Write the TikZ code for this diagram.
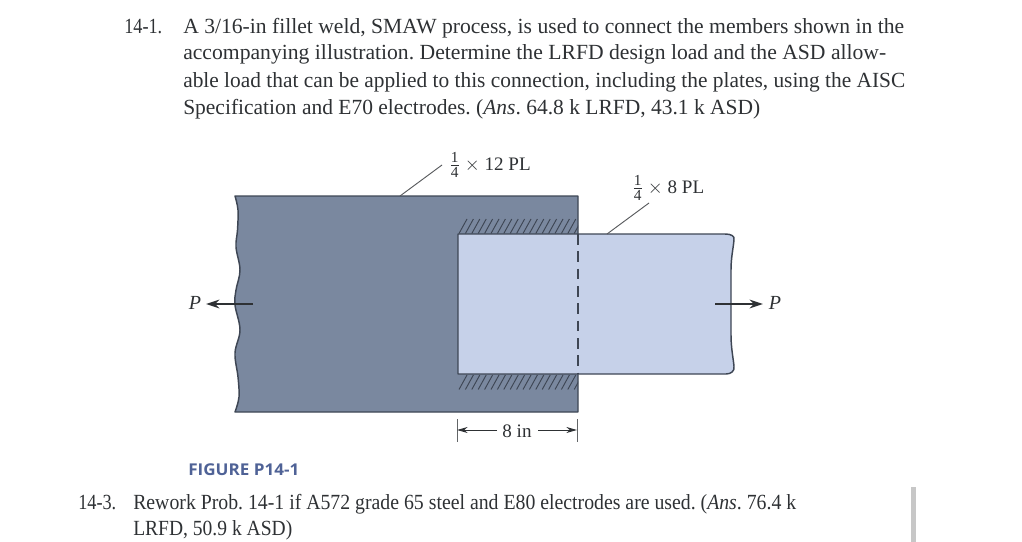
\documentclass[tikz,border=0pt]{standalone}
\usepackage{fontspec}
\setmainfont{Liberation Serif}
\newfontfamily\capfont{Open Sans}
\definecolor{ink}{HTML}{2E3134}
\definecolor{darkplate}{HTML}{7A889F}
\definecolor{lightplate}{HTML}{C6D1E9}
\definecolor{edgecol}{HTML}{3E4654}
\definecolor{capcol}{HTML}{4F6296}
\usetikzlibrary{arrows.meta}
\newcommand{\fitline}[2]{\resizebox{\dimexpr #1pt*3/4\relax}{\height}{\frenchspacing #2}}
\newcommand{\qfrac}{$\frac{\textrm{\fontsize{11.5pt}{12pt}\selectfont 1}}{\textrm{\fontsize{11.5pt}{12pt}\selectfont 4}}$}
\tikzset{
  body/.style={inner sep=0pt,anchor=base west,text=ink,font=\fontsize{16.2pt}{18pt}\selectfont},
  lab/.style={inner sep=0pt,text=ink,font=\fontsize{14.3pt}{16pt}\selectfont},
  plate/.style={draw=edgecol,line width=1.1pt,line join=round},
  leader/.style={draw=ink!80,line width=0.7pt},
  hatch/.style={draw=edgecol,line width=0.7pt},
  force/.style={draw=ink,line width=1.4pt,-{Stealth[length=10pt,width=6.5pt]}},
  dim/.style={draw=ink,line width=0.7pt,-{Stealth[length=8pt,width=4.5pt]}},
  ext/.style={draw=ink!75,line width=0.6pt},
}
\begin{document}
\begin{tikzpicture}[x=0.75pt,y=-0.75pt]
\useasboundingbox (0,0) rectangle (1022,542);
% text
\node[body] (n1) at (124,34) {\fitline{38}{14-1.}};
\node[body] (l1) at (183,34) {\fitline{721}{A 3/16-in fillet weld, SMAW process, is used to connect the members shown in the}};
\node[body] (l2) at (183,60) {\fitline{703}{accompanying illustration. Determine the LRFD design load and the ASD allow-}};
\node[body] (l3) at (183,88) {\fitline{722}{able load that can be applied to this connection, including the plates, using the AISC}};
\node[body] (l4) at (183,115) {\fitline{577}{Specification and E70 electrodes. (\textit{Ans}. 64.8 k LRFD, 43.1 k ASD)}};
\node[body] (n3) at (78,509) {\fitline{38}{14-3.}};
\node[body] (m1) at (133,509) {\fitline{663}{Rework Prob. 14-1 if A572 grade 65 steel and E80 electrodes are used. (\textit{Ans}. 76.4 k}};
\node[body] (m2) at (133,535) {\fitline{159}{LRFD, 50.9 k ASD)}};
\node[inner sep=0pt,anchor=base west,text=capcol,font=\capfont\bfseries\fontsize{12.2pt}{14pt}\selectfont] (cap) at (188,475) {\fitline{111}{FIGURE P14-1}};
% plates
\path[plate,fill=darkplate,rounded corners=0pt] plot[smooth,tension=0.6] coordinates {(235,196) (238,210) (237.5,230) (236,247) (240,270) (236,290) (235,305) (240,330) (235,353) (238,377) (239,397) (235,412)}
  -- (578,412) -- (578,196) -- cycle;
\path[plate,fill=lightplate] (458,234) -- (725,234) .. controls (731,234) and (735,236) .. (734,240)
  .. controls (733,250) and (731,258) .. (731,270) -- (731,335)
  .. controls (731,347) and (733,357) .. (734,366)
  .. controls (735,371) and (731,374) .. (726,374)
  -- (458,374) -- cycle;
% hidden edge
\fill[lightplate] (577,235) rectangle (579,373);
\draw[edgecol,line width=1.1pt,dash pattern=on 8pt off 5pt] (578,234) -- (578,374);
% hatching
\begin{scope}
\clip (458,215) rectangle (578,395);
\foreach \i in {0,...,19}{
  \draw[hatch] ({459+6.4*\i},233.5) -- ({467+6.4*\i},219);
  \draw[hatch] ({459+6.4*\i},389.5) -- ({467+6.4*\i},375);
}
\end{scope}
% labels
\node[lab,anchor=west] (a) at (449,165) {\qfrac\ $\times$ 12 PL};
\node[lab,anchor=west] (b) at (632,188) {\qfrac\ $\times$ 8 PL};
\coordinate (aend) at (400,196);
\coordinate (bend) at (607,234);
\coordinate (astart) at (442,165);
\coordinate (bstart) at (649,203);
\draw[leader] (astart) -- (aend);
\draw[leader] (bstart) -- (bend);
% forces
\node[lab,anchor=center,font=\fontsize{15pt}{16pt}\selectfont] (pl) at (195,303) {\textit{P}};
\node[lab,anchor=center,font=\fontsize{15pt}{16pt}\selectfont] (pr) at (775,303) {\textit{P}};
\coordinate (fl) at (253,304);
\coordinate (fr) at (715,304);
\coordinate (tl) at (206,304);
\coordinate (tr) at (763,304);
\draw[force] (fl) -- (tl);
\draw[force] (fr) -- (tr);
% dimension
\node[lab,anchor=center] (d) at (517,431) {8 in};
\coordinate (e1a) at (457,419); \coordinate (e1b) at (457,442);
\coordinate (e2a) at (577,419); \coordinate (e2b) at (577,442);
\coordinate (d1) at (457,430); \coordinate (d2) at (577,430);
\coordinate (s1) at (497,430); \coordinate (s2) at (538,430);
\draw[ext] (e1a) -- (e1b);
\draw[ext] (e2a) -- (e2b);
\draw[dim] (s1) -- (d1);
\draw[dim] (s2) -- (d2);
% side bar
\fill[black!22] (911,487) rectangle (915.5,542);
\end{tikzpicture}
\end{document}
